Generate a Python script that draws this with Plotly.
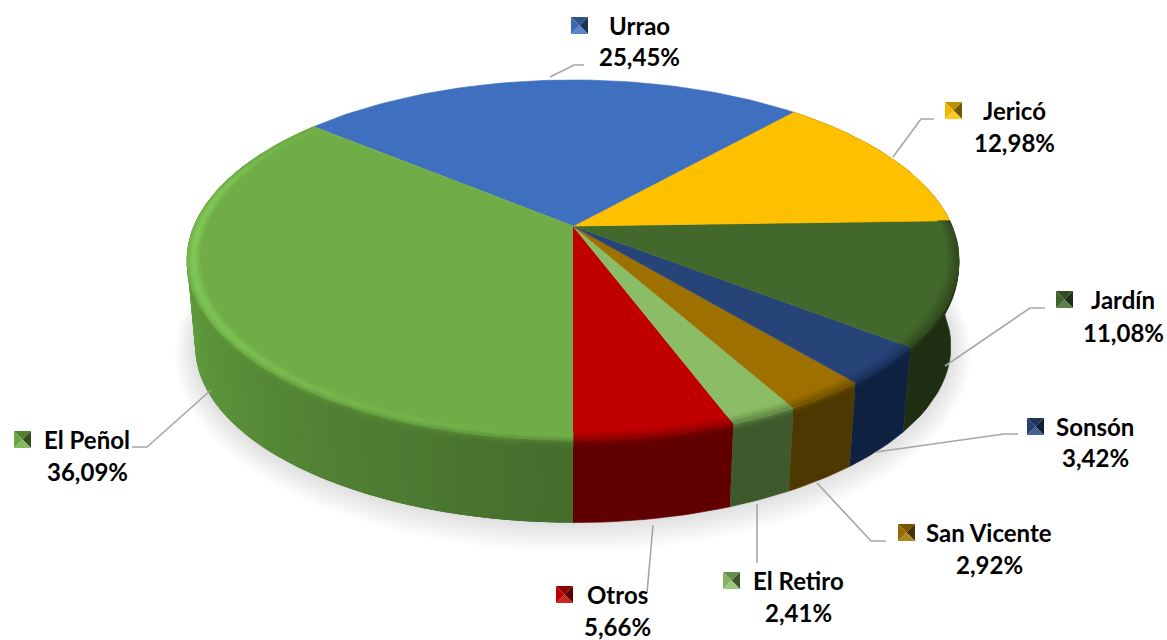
import math
import plotly.graph_objects as go

# ---- data, in drawing order (counter-clockwise on screen from the front of the pie)
names = ["Otros", "El Retiro", "San Vicente", "Sonsón", "Jardín", "Jericó", "Urrao", "El Peñol"]
shares = [5.66, 2.41, 2.92, 3.42, 11.08, 12.98, 25.45, 36.09]

# ---- styles
top_colors = ["#C00000", "#8BBD66", "#9E7000", "#264478", "#43682B", "#FFC000", "#3F6FBF", "#70AD47"]
side_colors = ["#600000", "#3E5A2C", "#4C3800", "#0F2140", "#1F2E12", "#7F6000", "#223F6E", "#5C9539"]

# ---- projection of the two discs (perspective ellipses)
CX = 573
TOP = dict(cy=226, a=379, b=173.6, k=0.189)
BOT = dict(cy=313, a=371, b=170, k=0.189)


def project(theta, disc, r=1.0):
    u, v = r * math.sin(theta), r * math.cos(theta)
    d = 1 - disc["k"] * v
    return CX + disc["a"] * u / d, disc["cy"] + disc["b"] * v / d


def hex2rgb(c):
    return [int(c[i:i + 2], 16) for i in (1, 3, 5)]


def mix(c1, c2, t):
    a, b = hex2rgb(c1), hex2rgb(c2)
    return "#%02X%02X%02X" % tuple(round(a[i] + (b[i] - a[i]) * t) for i in range(3))


fig = go.Figure()


def poly(pts, color, line=True):
    fig.add_trace(go.Scatter(
        x=[p[0] for p in pts], y=[p[1] for p in pts], mode="lines", fill="toself", fillcolor=color,
        line=dict(color=color if line else "rgba(0,0,0,0)", width=0.7 if line else 0),
        hoverinfo="skip", showlegend=False))


def steps(a0, a1, n):
    return [a0 + (a1 - a0) * i / n for i in range(n + 1)]


def wall_point(theta, depth):
    x0, y0 = project(theta, TOP)
    x1, y1 = project(theta, BOT)
    return x0 + (x1 - x0) * depth, y0 + (y1 - y0) * depth


# soft shadow around the lower disc
for e in range(20, 0, -2):
    shadow = dict(BOT, a=BOT["a"] + e, b=BOT["b"] + e, cy=BOT["cy"] + e * 0.2)
    poly([project(t, shadow) for t in steps(0, 2 * math.pi, 120)], "rgba(0,0,0,0.012)", line=False)

# slice angles from the values
total = sum(shares)
edges = [0.0]
for s in shares:
    edges.append(edges[-1] + s / total * 2 * math.pi)


def penol_side(theta):
    """Side shade of the big slice: darker toward the front."""
    front = abs(2 * math.pi - theta)
    t = min(1.0, front / math.radians(72))
    return mix("#456C2C", "#5F9A3C", t)


# side walls; the big slice is a stack of overlapping segments so no seams show
band_depths = [0.0, 0.02, 0.04, 0.06, 0.085]
for i, (a0, a1) in enumerate(zip(edges[:-1], edges[1:])):
    is_big = i == len(shares) - 1
    n = 60 if is_big else 1
    fine = steps(a0, a1, n)
    for s0, s1 in zip(fine[:-1], fine[1:]):
        mid = (s0 + s1) / 2
        if math.cos(mid) < -0.45:
            continue
        if is_big:
            # drawn from the back toward the front; each one reaches over the next seam
            end = min(a1, s1 + 2 * (a1 - a0) / n)
        else:
            end = s1
        ang = steps(s0, end, 4 if is_big else 16)
        col = penol_side(mid) if is_big else side_colors[i]
        poly([wall_point(t, 0) for t in ang] + [wall_point(t, 1) for t in reversed(ang)], col, line=not is_big)
    # soft transition below the rim
    n_band = 20 if is_big else 1
    fine = steps(a0, a1, n_band)
    for s0, s1 in zip(fine[:-1], fine[1:]):
        mid = (s0 + s1) / 2
        if math.cos(mid) < -0.45:
            continue
        ang = steps(s0, s1, 4 if is_big else 16)
        for j, (d0, d1) in enumerate(zip(band_depths[:-1], band_depths[1:])):
            f = (j + 0.5) / (len(band_depths) - 1)
            base = penol_side(mid) if is_big else side_colors[i]
            col = mix(base, top_colors[i], (1 - f) * 0.4)
            poly([wall_point(t, d0) for t in ang] + [wall_point(t, d1) for t in reversed(ang)], col)

# top faces
for i, (a0, a1) in enumerate(zip(edges[:-1], edges[1:])):
    pts = [(CX, TOP["cy"])] + [project(t, TOP) for t in steps(a0, a1, 60)]
    poly(pts, top_colors[i])

# bevel: narrow rings along the rim
rings = [0.968, 0.975, 0.982, 0.989, 0.995, 1.0]
for i, (a0, a1) in enumerate(zip(edges[:-1], edges[1:])):
    is_big = i == len(shares) - 1
    n = 28 if is_big else 1
    fine = steps(a0, a1, n)
    for s0, s1 in zip(fine[:-1], fine[1:]):
        mid = (s0 + s1) / 2
        if math.cos(mid) < -0.35 and not is_big:
            continue
        ang = steps(s0, s1, 2 if is_big else 16)
        for j, (r0, r1) in enumerate(zip(rings[:-1], rings[1:])):
            f = (j + 0.5) / (len(rings) - 1)
            if is_big:
                glow = max(0.0, -math.sin(mid)) ** 1.5 * max(0.0, min(1.0, (math.cos(mid) + 0.75) / 0.6))
                col = mix(top_colors[i], "#7FC856", math.sin(f * math.pi) * glow)
                col = mix(col, penol_side(mid), max(0.0, f - 0.55) * (1 - glow))
            else:
                col = mix(top_colors[i], side_colors[i], f * 0.55)
            a = [project(t, TOP, r0) for t in ang]
            b = [project(t, TOP, r1) for t in reversed(ang)]
            poly(a + b, col)

# ---- labels (layout: leader line, marker corner, text centre x, name y, value y)
label_layout = {
    "Urrao": ([550, 574, 584], [77, 65, 65], 571, 17, 639, 25, 56),
    "Jericó": ([893, 921, 934], [157, 119, 119], 945, 102, 1014, 110, 142),
    "Jardín": ([945, 1030, 1045], [366, 308, 308], 1056, 291, 1123, 299, 332),
    "Sonsón": ([876, 1004, 1018], [452, 434, 434], 1027, 418, 1095, 426, 457),
    "San Vicente": ([817, 871, 886], [483, 541, 541], 898, 524, 989, 532, 564),
    "El Retiro": ([757, 757], [504, 563], 723, 572, 798, 580, 612),
    "Otros": ([653, 647], [525, 593], 556, 586, 617, 594, 626),
    "El Peñol": ([211, 147, 132], [390, 447, 447], 14, 431, 87, 439, 471),
}
MARK = 17
shapes = []
annotations = []
FONT = dict(family="Lato, Carlito, 'Noto Sans', sans-serif", size=24, color="#000000")

for i, name in enumerate(names):
    lx, ly, mx, my, tx, ny, vy = label_layout[name]
    fig.add_trace(go.Scatter(x=lx, y=ly, mode="lines", line=dict(color="#A6A6A6", width=1.6),
                             hoverinfo="skip", showlegend=False))
    base = top_colors[i]
    c = (mx + MARK / 2, my + MARK / 2)
    corners = [(mx, my), (mx + MARK, my), (mx + MARK, my + MARK), (mx, my + MARK)]
    tri_cols = [mix(base, "#000000", 0.25), mix(base, "#000000", 0.55),
                mix(base, "#FFFFFF", 0.15), mix(base, "#000000", 0.05)]
    for k, col in enumerate(tri_cols):
        p, q = corners[k], corners[(k + 1) % 4]
        shapes.append(dict(type="path", xref="x", yref="y", fillcolor=col, line=dict(width=0),
                           path=f"M{p[0]},{p[1]} L{q[0]},{q[1]} L{c[0]},{c[1]} Z"))
    value_text = f"{shares[i]:.2f}".replace(".", ",") + "%"
    annotations.append(dict(x=tx, y=ny, text=f"<b>{name}</b>", showarrow=False, xref="x", yref="y",
                            xanchor="center", yanchor="middle", font=FONT))
    annotations.append(dict(x=tx, y=vy, text=f"<b>{value_text}</b>", showarrow=False, xref="x", yref="y",
                            xanchor="center", yanchor="middle", font=FONT))

fig.update_layout(
    width=1167, height=640, margin=dict(l=0, r=0, t=0, b=0),
    paper_bgcolor="#FFFFFF", plot_bgcolor="#FFFFFF", showlegend=False,
    xaxis=dict(range=[0, 1167], visible=False, fixedrange=True),
    yaxis=dict(range=[640, 0], visible=False, fixedrange=True),
    shapes=shapes, annotations=annotations,
)
fig.write_html("out.html", config={"displayModeBar": False},
               post_script="document.body.style.margin='0';document.body.style.overflow='hidden';")
